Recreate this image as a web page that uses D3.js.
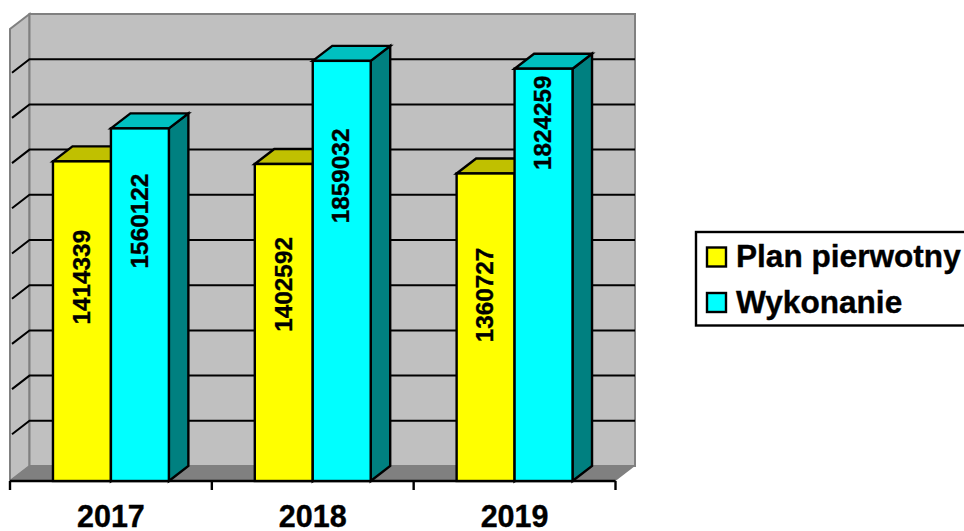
<!DOCTYPE html>
<html><head><meta charset="utf-8">
<script src="https://cdn.jsdelivr.net/npm/d3@7/dist/d3.min.js"></script>
<style>html,body{margin:0;padding:0;background:#fff}svg{display:block}text{font-family:"Liberation Sans",Arial,sans-serif;font-weight:bold;fill:#000;stroke:#000;stroke-width:0.35px}</style>
</head><body><div id="c"></div>
<script>
const categories = ["2017","2018","2019"];
const seriesNames = ["Plan pierwotny","Wykonanie"];
const planPierwotny = [1414339,1402592,1360727];
const wykonanie = [1560122,1859032,1824259];
// axis value at which each hand-placed rotated label is centred
const planLabelAt = [902000,870000,823000];
const wykonanieLabelAt = [1150000,1350000,1585000];
const axisMax = 2000000, axisStep = 200000;

const W=964,H=531, dx=19.5, dy=-15;
const frontLeft=10, frontRight=615.5, baseY=481, topY=29;
const svg=d3.select("#c").append("svg").attr("width",W).attr("height",H);
const x=d3.scaleBand().domain(categories).range([frontLeft,frontRight]).paddingInner(0.4257).paddingOuter(0.2129);
const sub=d3.scaleBand().domain(seriesNames).range([0,x.bandwidth()]);
const y=d3.scaleLinear().domain([0,axisMax]).range([baseY,topY]);
const pts=a=>a.map(p=>p.join(",")).join(" ");
const ticks=d3.range(axisStep,axisMax+1,axisStep);

// walls
svg.append("polygon").attr("points",pts([[frontLeft,baseY],[frontLeft+dx,baseY+dy],[frontLeft+dx,topY+dy],[frontLeft,topY]]))
  .attr("fill","#c0c0c0").attr("stroke","#808080").attr("stroke-width",2);
svg.append("rect").attr("x",frontLeft+dx).attr("y",topY+dy).attr("width",frontRight-frontLeft).attr("height",baseY-topY)
  .attr("fill","#c0c0c0").attr("stroke","#808080").attr("stroke-width",2);
svg.append("polygon").attr("points",pts([[frontLeft,baseY],[frontRight,baseY],[frontRight+dx,baseY+dy],[frontLeft+dx,baseY+dy]]))
  .attr("fill","#808080");
svg.append("line").attr("x1",frontLeft).attr("y1",baseY).attr("x2",frontLeft+dx).attr("y2",baseY+dy).attr("stroke","#808080").attr("stroke-width",1);

// gridlines
const grid=svg.append("g").attr("stroke","#000").attr("stroke-width",2).attr("fill","none");
ticks.filter(t=>t<axisMax).forEach(t=>{
  grid.append("polyline").attr("points",pts([[frontLeft+2,y(t)-1.5],[frontLeft+dx,y(t)+dy],[frontRight+dx,y(t)+dy]]));
});

// axis
const ax=svg.append("g").attr("stroke","#000").attr("stroke-width",2.4);
ax.append("line").attr("x1",frontLeft).attr("x2",frontRight).attr("y1",baseY).attr("y2",baseY);
d3.range(categories.length+1).forEach(i=>{
  const px=frontLeft+(frontRight-frontLeft)*i/categories.length;
  ax.append("line").attr("x1",px).attr("x2",px).attr("y1",baseY).attr("y2",baseY+9);
});

// bars
const styles=[{front:"#ffff00",top:"#c0c000",side:"#808000"},{front:"#00ffff",top:"#00c0c0",side:"#008080"}];
const seriesValues=[planPierwotny,wykonanie];
const labelAt=[planLabelAt,wykonanieLabelAt];
categories.forEach((c,ci)=>{
  seriesNames.forEach((s,si)=>{
    const v=seriesValues[si][ci], L=x(c)+sub(s), R=L+sub.bandwidth(), T=y(v), B=y(0), st=styles[si];
    const g=svg.append("g").attr("stroke","#000").attr("stroke-width",2.4).attr("stroke-linejoin","miter");
    g.append("polygon").attr("points",pts([[R,T],[R+dx,T+dy],[R+dx,B+dy],[R,B]])).attr("fill",st.side);
    g.append("polygon").attr("points",pts([[L,T],[L+dx,T+dy],[R+dx,T+dy],[R,T]])).attr("fill",st.top);
    g.append("rect").attr("x",L).attr("y",T).attr("width",R-L).attr("height",B-T).attr("fill",st.front);
  });
});
// value labels above all bars
categories.forEach((c,ci)=>{
  seriesNames.forEach((s,si)=>{
    const cx=x(c)+sub(s)+sub.bandwidth()/2-1, cy=y(labelAt[si][ci]);
    svg.append("text").attr("transform",`translate(${cx},${cy}) rotate(-90)`)
      .attr("text-anchor","middle").attr("dy","0.36em").attr("font-size",24.3).text(seriesValues[si][ci]);
  });
});

// category labels
svg.append("g").selectAll("text").data(categories).join("text")
  .attr("x",c=>x(c)+x.bandwidth()/2).attr("y",527).attr("text-anchor","middle").attr("font-size",30.5).text(c=>c);

// legend
svg.append("rect").attr("x",696).attr("y",232).attr("width",300).attr("height",93.5).attr("fill","#fff").attr("stroke","#000").attr("stroke-width",2.4);
seriesNames.forEach((s,i)=>{
  const ly=247.5+i*45.5;
  svg.append("rect").attr("x",707).attr("y",ly).attr("width",19).attr("height",19).attr("fill",styles[i].front).attr("stroke","#000").attr("stroke-width",2.4);
  svg.append("text").attr("x",736).attr("y",ly+19.5).attr("font-size",31.6).text(s);
});
</script></body></html>
